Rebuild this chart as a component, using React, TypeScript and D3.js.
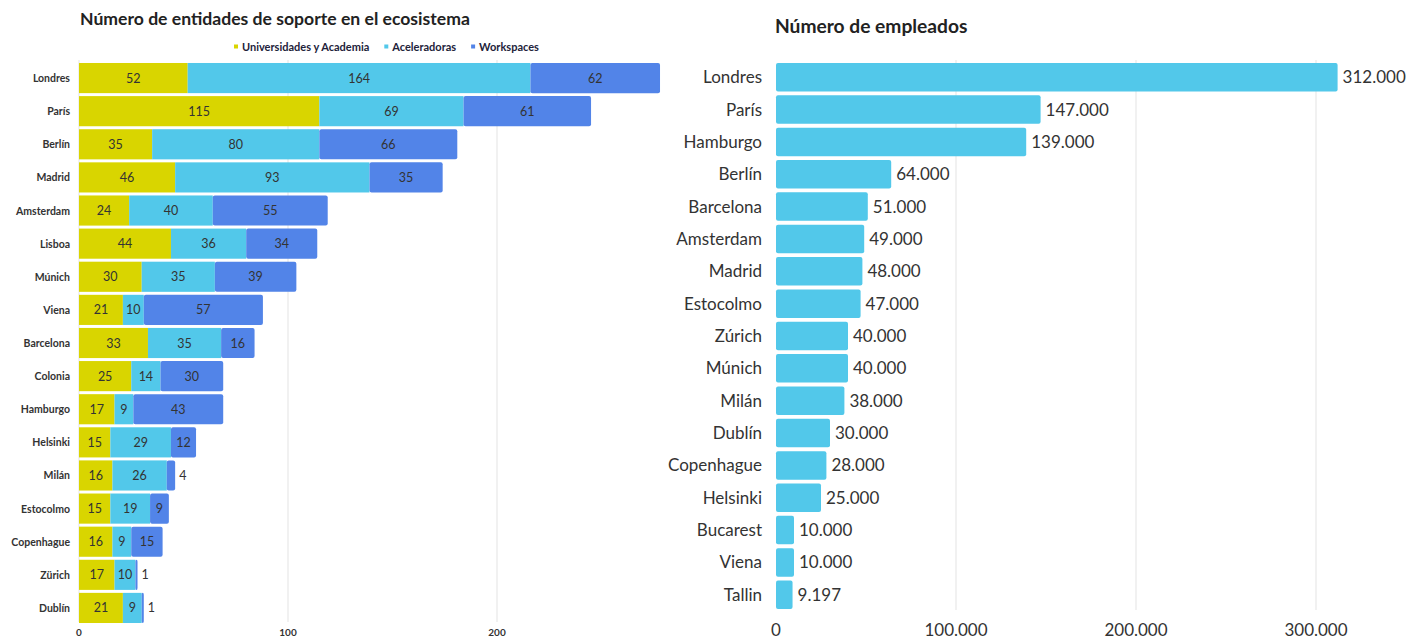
import React, { useEffect, useRef } from "react";
import * as d3 from "d3";

// left chart
const supportCities = ["Londres", "París", "Berlín", "Madrid", "Amsterdam", "Lisboa", "Múnich", "Viena", "Barcelona", "Colonia", "Hamburgo", "Helsinki", "Milán", "Estocolmo", "Copenhague", "Zürich", "Dublín"];
const universidades = [52, 115, 35, 46, 24, 44, 30, 21, 33, 25, 17, 15, 16, 15, 16, 17, 21];
const aceleradoras = [164, 69, 80, 93, 40, 36, 35, 10, 35, 14, 9, 29, 26, 19, 9, 10, 9];
const workspaces = [62, 61, 66, 35, 55, 34, 39, 57, 16, 30, 43, 12, 4, 9, 15, 1, 1];
const seriesNames = ["Universidades y Academia", "Aceleradoras", "Workspaces"];
const leftTicks = [0, 100, 200];

// right chart
const employeeCities = ["Londres", "París", "Hamburgo", "Berlín", "Barcelona", "Amsterdam", "Madrid", "Estocolmo", "Zúrich", "Múnich", "Milán", "Dublín", "Copenhague", "Helsinki", "Bucarest", "Viena", "Tallin"];
const employees = [312000, 147000, 139000, 64000, 51000, 49000, 48000, 47000, 40000, 40000, 38000, 30000, 28000, 25000, 10000, 10000, 9197];
const rightTicks = [0, 100000, 200000, 300000];

const colors = ["#d9d500", "#52c8ea", "#5284e8"];
const FONT = "Lato, 'Open Sans', sans-serif";
const TEXT = "#333";

export default function App() {
  const ref = useRef<SVGSVGElement>(null);

  useEffect(() => {
    if (!ref.current) return;
    const svg = d3.select(ref.current);
    svg.selectAll("*").remove();
    svg.style("font-family", FONT);

    const es = d3.formatLocale({ decimal: ",", thousands: ".", grouping: [3], currency: ["", "€"] });
    const fmt = es.format(",d");

    // ---------- Left: stacked bars ----------
    const L = svg.append("g");
    const x = d3.scaleLinear().domain([0, 100]).range([79, 288]);
    const y = d3.scaleBand().domain(supportCities).range([62, 624]).paddingInner(0.09).paddingOuter(0.03);

    L.append("text").attr("x", 80).attr("y", 25).attr("font-size", 17.6).attr("font-weight", 700)
      .attr("fill", "#222").text("Número de entidades de soporte en el ecosistema");

    // legend
    let lx = 236;
    seriesNames.forEach((n, i) => {
      L.append("rect").attr("x", lx - 2).attr("y", 44.5).attr("width", 4).attr("height", 4).attr("fill", colors[i]);
      const t = L.append("text").attr("x", lx + 6).attr("y", 50.5).attr("font-size", 11).attr("font-weight", 700)
        .attr("fill", "#22223a").text(n);
      const w = (t.node() as SVGTextElement).getComputedTextLength();
      lx += w + 23;
    });

    // grid
    L.selectAll(".lg").data(leftTicks).join("line")
      .attr("x1", (d) => x(d)).attr("x2", (d) => x(d)).attr("y1", 60).attr("y2", 622)
      .attr("stroke", "#e3e3e3").attr("stroke-width", 1);

    const rows = supportCities.map((c, i) => ({ city: c, vals: [universidades[i], aceleradoras[i], workspaces[i]] }));
    rows.forEach((r) => {
      let acc = 0;
      const total = d3.sum(r.vals);
      const yy = y(r.city)!;
      r.vals.forEach((v, k) => {
        const x0 = x(acc), x1 = x(acc + v);
        L.append("rect").attr("x", x0).attr("y", yy).attr("width", x1 - x0).attr("height", y.bandwidth())
          .attr("fill", colors[k]).attr("rx", k === 2 ? 2 : 0);
        const inside = x1 - x0 >= 10;
        L.append("text")
          .attr("x", inside ? (x0 + x1) / 2 : x(total) + 4)
          .attr("y", yy + y.bandwidth() / 2 + 4.5)
          .attr("text-anchor", inside ? "middle" : "start")
          .attr("font-size", 12.5).attr("fill", TEXT).text(v);
        acc += v;
      });
      L.append("text").attr("x", 70).attr("y", yy + y.bandwidth() / 2 + 4).attr("text-anchor", "end")
        .attr("font-size", 10.5).attr("font-weight", 700).attr("fill", TEXT).text(r.city);
    });

    L.selectAll(".lt").data(leftTicks).join("text")
      .attr("x", (d) => x(d)).attr("y", 636).attr("text-anchor", "middle")
      .attr("font-size", 10).attr("font-weight", 700).attr("fill", TEXT).text((d) => d);

    // ---------- Right: employees ----------
    const R = svg.append("g");
    const x2 = d3.scaleLinear().domain([0, 100000]).range([776, 956]);
    const y2 = d3.scaleBand().domain(employeeCities).range([62, 610]).paddingInner(0.12).paddingOuter(0.03);

    R.append("text").attr("x", 775).attr("y", 33).attr("font-size", 19.2).attr("font-weight", 700)
      .attr("fill", "#222").text("Número de empleados");

    R.selectAll(".rg").data(rightTicks.slice(1)).join("line")
      .attr("x1", (d) => x2(d)).attr("x2", (d) => x2(d)).attr("y1", 60).attr("y2", 610)
      .attr("stroke", "#e3e3e3").attr("stroke-width", 1);

    employeeCities.forEach((c, i) => {
      const yy = y2(c)!;
      const cy = yy + y2.bandwidth() / 2;
      R.append("rect").attr("x", x2(0)).attr("y", yy).attr("width", x2(employees[i]) - x2(0))
        .attr("height", y2.bandwidth()).attr("fill", colors[1]).attr("rx", 2);
      R.append("text").attr("x", x2(employees[i]) + 5).attr("y", cy + 6)
        .attr("font-size", 17).attr("fill", TEXT).text(fmt(employees[i]));
      R.append("text").attr("x", 762).attr("y", cy + 6).attr("text-anchor", "end")
        .attr("font-size", 17).attr("fill", TEXT).text(c);
    });

    R.selectAll(".rt").data(rightTicks).join("text")
      .attr("x", (d) => x2(d)).attr("y", 636).attr("text-anchor", "middle")
      .attr("font-size", 17).attr("fill", TEXT).text((d) => fmt(d));
  }, []);

  return (
    <svg ref={ref} width={1427} height={641}
      style={{ position: "absolute", left: 0, top: 0, background: "#fff" }} />
  );
}
